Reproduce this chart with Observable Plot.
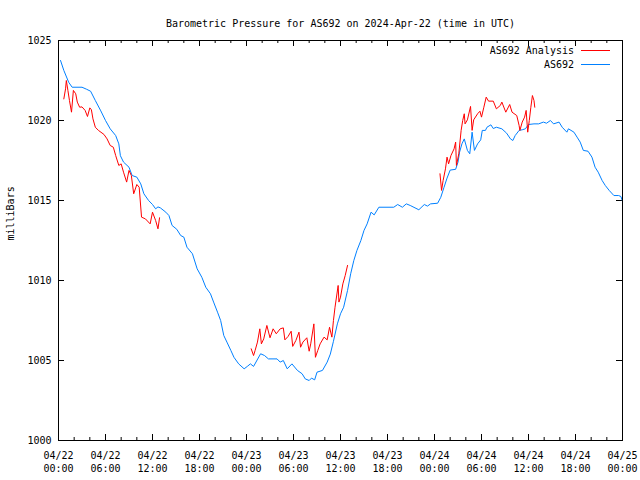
<!DOCTYPE html>
<html><head><meta charset="utf-8">
<script src="https://cdn.jsdelivr.net/npm/d3@7"></script>
<script src="https://cdn.jsdelivr.net/npm/@observablehq/plot@0.6"></script>
<style>
body{margin:0;background:#fff;}
#wrap{position:relative;width:640px;height:480px;font-family:"DejaVu Sans Mono",monospace;font-size:10px;color:#000;}
#legend{position:absolute;top:43px;right:30px;}
#legend .row{display:flex;align-items:center;justify-content:flex-end;height:14px;}
#legend .sw{display:inline-block;width:29px;height:0;margin-left:7px;}
</style></head>
<body><div id="wrap"><div id="legend"></div></div>
<script>
const titleText = "Barometric Pressure for AS692 on 2024-Apr-22 (time in UTC)";
const yLabel = "milliBars";
const startTime = Date.UTC(2024, 3, 22, 0, 0, 0);
const seriesNames = ["AS692 Analysis", "AS692"];
const seriesColors = ["#ff0000", "#0080ff"];
const yTicks = [1000, 1005, 1010, 1015, 1020, 1025];
const xMajorHours = [0, 6, 12, 18, 24, 30, 36, 42, 48, 54, 60, 66, 72];
const xMinorHours = [2, 4, 8, 10, 14, 16, 20, 22, 26, 28, 32, 34, 38, 40, 44, 46, 50, 52, 56, 58, 62, 64, 68, 70];

// AS692 (blue)
const blueHours = [0.26,0.68,1.3,1.74,3.0,3.6,4.1,4.7,5.4,6.0,6.6,7.3,7.7,7.9,8.3,9.0,9.4,10.0,10.5,10.9,11.5,12.0,12.4,12.7,13.0,13.7,14.1,14.5,15.1,15.6,16.0,16.4,17.1,17.7,18.3,18.8,19.4,19.8,20.3,20.7,21.1,21.5,22.0,22.4,23.0,23.7,24.1,24.5,24.9,25.8,26.3,26.8,27.9,28.3,28.7,29.2,29.8,30.5,31.1,31.5,32.0,32.3,32.7,33.0,33.7,34.3,34.7,35.1,35.6,36.0,36.4,36.9,37.3,37.7,38.1,38.6,39.0,39.4,39.9,40.3,40.9,42.8,43.3,43.9,44.4,44.9,46.0,46.7,47.1,47.5,48.4,48.8,49.2,49.6,50.0,50.7,51.0,51.2,51.5,51.8,52.2,52.5,52.8,53.1,53.5,53.9,54.1,54.5,54.7,55.2,55.5,55.9,56.6,57.2,57.7,58.0,58.3,58.8,59.2,59.6,60.0,60.7,61.3,61.9,62.3,62.8,63.2,63.9,64.3,64.9,65.1,65.8,66.2,66.6,67.0,67.6,68.1,68.5,68.9,69.4,69.8,70.3,70.9,71.5,71.8,72.0];
const bluePressure = [1023.75,1023.13,1022.39,1022.08,1022.08,1021.95,1021.83,1021.25,1020.6,1020.0,1019.48,1019.06,1018.54,1017.8,1017.4,1017.08,1016.56,1016.46,1016.04,1015.42,1015.0,1014.75,1014.48,1014.6,1014.54,1014.27,1014.06,1013.44,1013.2,1012.81,1012.71,1012.08,1011.67,1010.73,1010.2,1009.58,1009.17,1008.65,1008.02,1007.5,1006.56,1006.15,1005.63,1005.2,1004.79,1004.48,1004.63,1004.79,1004.63,1005.42,1005.31,1005.1,1005.1,1004.9,1005.0,1004.48,1004.79,1004.38,1004.17,1003.85,1003.75,1003.9,1003.79,1004.27,1004.38,1004.9,1005.4,1006.2,1007.29,1007.92,1008.33,1009.38,1010.42,1011.25,1011.88,1012.5,1013.13,1013.54,1014.27,1014.1,1014.58,1014.58,1014.75,1014.58,1014.79,1014.69,1014.42,1014.75,1014.65,1014.79,1014.83,1015.2,1015.8,1016.4,1016.9,1016.95,1017.4,1018.02,1018.54,1018.85,1018.13,1017.92,1019.27,1018.13,1018.54,1018.79,1019.38,1019.38,1019.58,1019.73,1019.5,1019.58,1019.48,1019.21,1018.85,1018.75,1019.06,1019.38,1019.42,1019.48,1019.75,1019.79,1019.79,1019.9,1019.83,1020.0,1019.79,1019.9,1019.58,1019.27,1019.48,1019.27,1018.96,1018.65,1018.13,1018.08,1017.71,1017.08,1016.77,1016.25,1015.94,1015.63,1015.31,1015.31,1015.25,1014.95];

// AS692 Analysis (red), null marks a gap
const redHours = [0.68,0.9,1.0,1.2,1.4,1.66,1.9,2.2,2.4,2.7,3.0,3.4,3.7,4.0,4.2,4.4,4.7,5.1,5.8,6.2,6.6,7.0,7.3,7.7,8.0,8.3,8.7,9.0,9.3,9.6,10.0,10.3,10.6,11.1,11.7,12.0,12.4,12.7,12.9,
  null,
  24.6,24.9,25.1,25.4,25.7,25.9,26.2,26.6,27.0,27.4,27.8,28.3,28.7,28.9,29.3,29.7,29.9,30.3,30.7,30.9,31.2,31.7,32.0,32.2,32.6,32.8,33.1,33.4,33.9,34.3,34.6,34.9,35.1,35.3,35.7,35.8,36.0,36.3,36.6,36.9,
  null,
  48.7,48.9,49.1,49.4,49.6,49.8,50.1,50.5,50.7,50.8,51.1,51.4,51.6,51.8,51.9,52.2,52.6,52.8,53.0,53.5,53.8,54.0,54.3,54.6,54.9,55.5,55.9,56.4,56.6,57.1,57.6,57.9,58.5,58.8,58.9,59.2,59.5,59.7,59.9,60.1,60.3,60.5,60.7,60.8];
const redPressure = [1021.35,1021.98,1022.5,1021.88,1021.25,1020.52,1021.88,1021.67,1021.15,1020.83,1020.85,1020.63,1020.25,1020.79,1020.67,1020.1,1019.58,1019.38,1019.13,1018.85,1018.44,1018.33,1017.81,1017.19,1017.29,1016.77,1016.15,1016.88,1016.56,1015.42,1016.0,1015.83,1013.96,1013.85,1013.54,1014.27,1013.75,1013.23,1013.92,
  null,
  1005.73,1005.31,1005.63,1006.15,1006.98,1006.04,1006.35,1007.19,1006.42,1006.98,1006.67,1006.98,1007.04,1006.29,1006.5,1006.83,1005.88,1006.25,1006.77,1005.83,1006.15,1006.42,1005.58,1006.04,1007.29,1005.2,1005.63,1006.04,1006.46,1006.29,1007.08,1006.46,1007.5,1008.33,1009.69,1008.65,1008.96,1009.79,1010.31,1010.94,
  null,
  1016.67,1015.63,1016.25,1016.98,1017.71,1017.29,1017.81,1018.23,1018.65,1017.19,1017.92,1019.38,1020.0,1020.42,1019.79,1020.04,1020.88,1019.38,1020.04,1020.42,1020.58,1020.21,1020.83,1021.46,1021.21,1021.21,1020.73,1020.94,1021.15,1020.52,1021.0,1020.52,1020.31,1019.69,1019.38,1019.9,1020.21,1020.63,1019.27,1020.0,1020.83,1021.56,1021.25,1020.83];

const toDate = h => h == null ? null : new Date(startTime + h * 3600e3);
const blueData = blueHours.map((h, i) => ({t: toDate(h), p: bluePressure[i]}));
const redData = redHours.map((h, i) => ({t: toDate(h), p: redPressure[i]}));
const majorDates = xMajorHours.map(toDate);
const minorDates = xMinorHours.map(toDate);

const W = 640, H = 480, mL = 58, mR = 18, mT = 40, mB = 40;
const innerW = W - mL - mR, innerH = H - mT - mB;
const fmt = d3.utcFormat("%m/%d\n%H:%M");

const chart = Plot.plot({
  width: W, height: H,
  marginLeft: mL, marginRight: mR, marginTop: mT, marginBottom: mB,
  style: {fontFamily: "'DejaVu Sans Mono', monospace", fontSize: "10px", background: "#fff", color: "#000", overflow: "visible"},
  x: {type: "utc", domain: [toDate(0), toDate(72)]},
  y: {domain: [1000, 1025]},
  marks: [
    Plot.tickX(majorDates, {x: d => d, insetTop: innerH - 6, stroke: "#000"}),
    Plot.tickX(majorDates, {x: d => d, insetBottom: innerH - 6, stroke: "#000"}),
    Plot.tickX(minorDates, {x: d => d, insetTop: innerH - 3, stroke: "#000"}),
    Plot.tickX(minorDates, {x: d => d, insetBottom: innerH - 3, stroke: "#000"}),
    Plot.tickY(yTicks, {y: d => d, insetRight: innerW - 6, stroke: "#000"}),
    Plot.tickY(yTicks, {y: d => d, insetLeft: innerW - 6, stroke: "#000"}),
    Plot.axisX(majorDates, {tickSize: 0, tickPadding: 9, tickFormat: fmt, lineHeight: 1.3, label: null, fontSize: 10}),
    Plot.axisY(yTicks, {tickSize: 0, tickPadding: 7, tickFormat: d3.format("d"), label: null, fontSize: 10}),
    Plot.line(blueData, {x: "t", y: "p", stroke: seriesColors[1], strokeWidth: 1, strokeLinejoin: "miter"}),
    Plot.line(redData, {x: "t", y: "p", stroke: seriesColors[0], strokeWidth: 1, strokeLinejoin: "miter"}),
    Plot.frame({stroke: "#000", strokeWidth: 1}),
    Plot.text([yLabel], {frameAnchor: "left", dx: -48, rotate: -90, fontSize: 10}),
    Plot.text([titleText], {frameAnchor: "top", dy: -21, fontSize: 10})
  ]
});
document.getElementById("wrap").prepend(chart);

const legend = document.getElementById("legend");
seriesNames.forEach((name, i) => {
  const row = document.createElement("div");
  row.className = "row";
  const label = document.createElement("span");
  label.textContent = name;
  const sw = document.createElement("span");
  sw.className = "sw";
  sw.style.borderTop = "1px solid " + seriesColors[i];
  row.append(label, sw);
  legend.append(row);
});
</script>
</body></html>
